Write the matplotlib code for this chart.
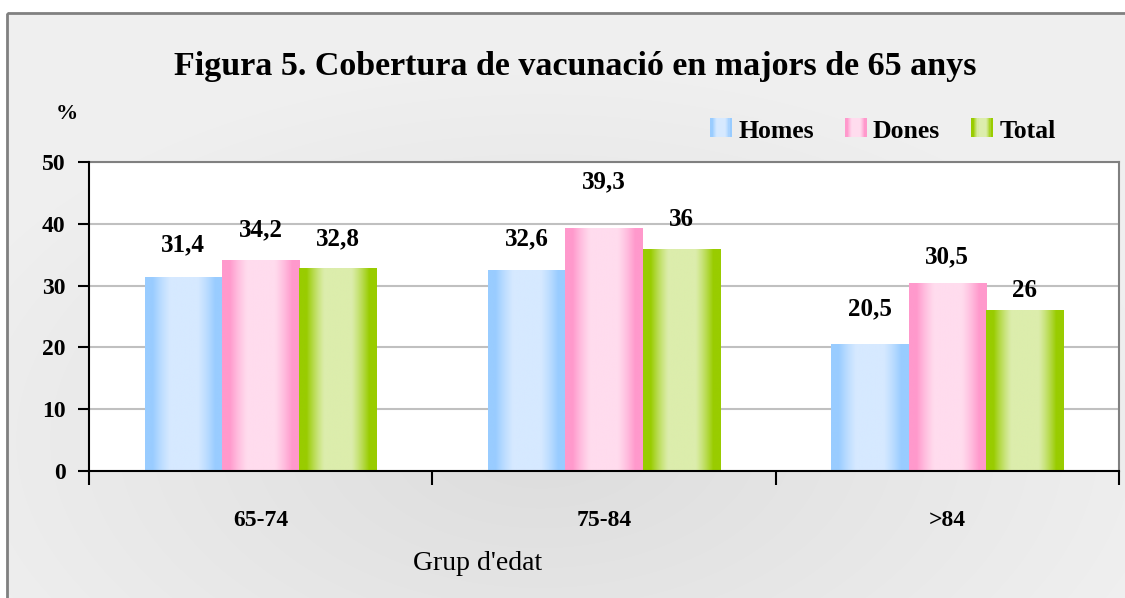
import numpy as np
import matplotlib
matplotlib.use("Agg")
import matplotlib.pyplot as plt
from matplotlib.patches import Rectangle
from matplotlib.legend_handler import HandlerBase

# data
grups = ["65-74", "75-84", ">84"]
series = ["Homes", "Dones", "Total"]
homes = [31.4, 32.6, 20.5]
dones = [34.2, 39.3, 30.5]
total = [32.8, 36, 26]
yticks = [0, 10, 20, 30, 40, 50]

# bar look: (edge colour, centre colour)
colors = [("#99ccff", "#d6e9ff"), ("#ff99cc", "#ffdcee"), ("#99cc00", "#dcedac")]
# label offsets above bar tops (pixels), hand placed like the original
label_off = [[32, 31, 35],   # homes
             [30, 46, 26],   # dones
             [29, 29, 20]]   # total

plt.rcParams['font.family'] = ['Liberation Serif', 'DejaVu Serif']

W, H = 1125, 598
fig = plt.figure(figsize=(W / 100, H / 100), dpi=100, facecolor="white")

# background panel with a soft radial grey gradient
bg = fig.add_axes([0, 0, 1, 1], zorder=-10)
bg.set_xlim(0, W)
bg.set_ylim(H, 0)
bg.axis("off")
yy, xx = np.mgrid[0:H, 0:W]
d = np.sqrt(((xx - 540) / 650.0) ** 2 + ((yy - 440) / 380.0) ** 2)
shade = 0.865 + 0.075 * np.clip(d, 0, 1)
img = np.dstack([shade, shade, shade])
panel = Rectangle((7, 13), W + 20, H + 20, facecolor="none", edgecolor="#808080", lw=2)
bg.add_patch(panel)
im = bg.imshow(img, extent=[0, W, H, 0], aspect="auto", zorder=0)
im.set_clip_path(panel)

# main plot area
ax = fig.add_axes([89 / W, 1 - 471 / H, (1119 - 89) / W, (471 - 162) / H])
ax.set_facecolor("white")

bw = 0.225
centers = np.arange(len(grups)) + 0.5
prof_t = np.linspace(0, 1, 200)
prof = np.clip((np.sin(np.pi * prof_t) - 0.3) / 0.55, 0, 1)

def grad_image(edge, mid):
    e = np.array(matplotlib.colors.to_rgb(edge))
    m = np.array(matplotlib.colors.to_rgb(mid))
    row = e[None, :] + (m - e)[None, :] * prof[:, None]
    return row[None, :, :]

for i, (vals, (ec, mc)) in enumerate(zip([homes, dones, total], colors)):
    bars = ax.bar(centers + (i - 1) * bw, vals, bw, color="none", edgecolor="none", zorder=3)
    g = grad_image(ec, mc)
    for j, rect in enumerate(bars):
        x0, w, h = rect.get_x(), rect.get_width(), rect.get_height()
        bim = ax.imshow(g, extent=[x0, x0 + w, 0, h], aspect="auto", zorder=3, interpolation="bilinear")
        bim.set_clip_path(rect)
        lab = ("%g" % vals[j]).replace(".", ",")
        ax.annotate(lab, xy=(x0 + w / 2, h), xytext=(0, label_off[i][j]),
                    textcoords="offset pixels", ha="center", va="center",
                    fontsize=18, fontweight="bold", zorder=5)

ax.set_xlim(0, 3)
ax.set_ylim(0, 50)

# grid and spines
ax.set_yticks(yticks)
ax.set_yticklabels([str(v) for v in yticks], fontsize=17, fontweight="bold")
ax.yaxis.grid(True, color="#c0c0c0", lw=1.5, zorder=0)
ax.set_axisbelow(True)
for s in ["top", "right"]:
    ax.spines[s].set_color("#808080")
    ax.spines[s].set_linewidth(1.5)
for s in ["left", "bottom"]:
    ax.spines[s].set_color("black")
    ax.spines[s].set_linewidth(1.5)
    ax.spines[s].set_zorder(6)
ax.tick_params(axis="y", direction="out", length=8, width=1.5, pad=9)

ax.set_xticks([0, 1, 2, 3])
ax.set_xticklabels([])
ax.set_xticks(centers, minor=True)
ax.set_xticklabels(grups, minor=True, fontsize=17, fontweight="bold")
ax.tick_params(axis="x", which="major", direction="out", length=10, width=1.5)
ax.tick_params(axis="x", which="minor", length=0, pad=28)

# texts
fig.text(575 / W, 1 - 66 / H, "Figura 5. Cobertura de vacunació en majors de 65 anys",
         ha="center", va="center", fontsize=24.5, fontweight="bold")
fig.text(67 / W, 1 - 114 / H, "%", ha="center", va="center", fontsize=16, fontweight="bold")
fig.text(478 / W, 1 - 564 / H, "Grup d'edat", ha="center", va="center", fontsize=20)

# legend with gradient swatches
class GradHandler(HandlerBase):
    def __init__(self, ec, mc):
        super().__init__()
        self.g = grad_image(ec, mc)[0]

    def create_artists(self, legend, orig, xd, yd, width, height, fontsize, trans):
        n = len(self.g)
        arts = []
        for k in range(0, n, 10):
            r = Rectangle((xd + width * k / n, yd), width * 10 / n + 0.3, height,
                          facecolor=self.g[k], edgecolor="none", transform=trans)
            arts.append(r)
        return arts

handles = [Rectangle((0, 0), 1, 1) for _ in series]
hmap = {h: GradHandler(ec, mc) for h, (ec, mc) in zip(handles, colors)}
leg = fig.legend(handles, series, handler_map=hmap, loc="center left",
                 bbox_to_anchor=(697 / W, 1 - 131 / H), ncol=3, frameon=False,
                 borderpad=0, handlelength=0.85, handleheight=0.75, handletextpad=0.25,
                 columnspacing=1.2, prop={"size": 18.5, "weight": "bold"})

fig.savefig("out.png", dpi=100, facecolor="white")
